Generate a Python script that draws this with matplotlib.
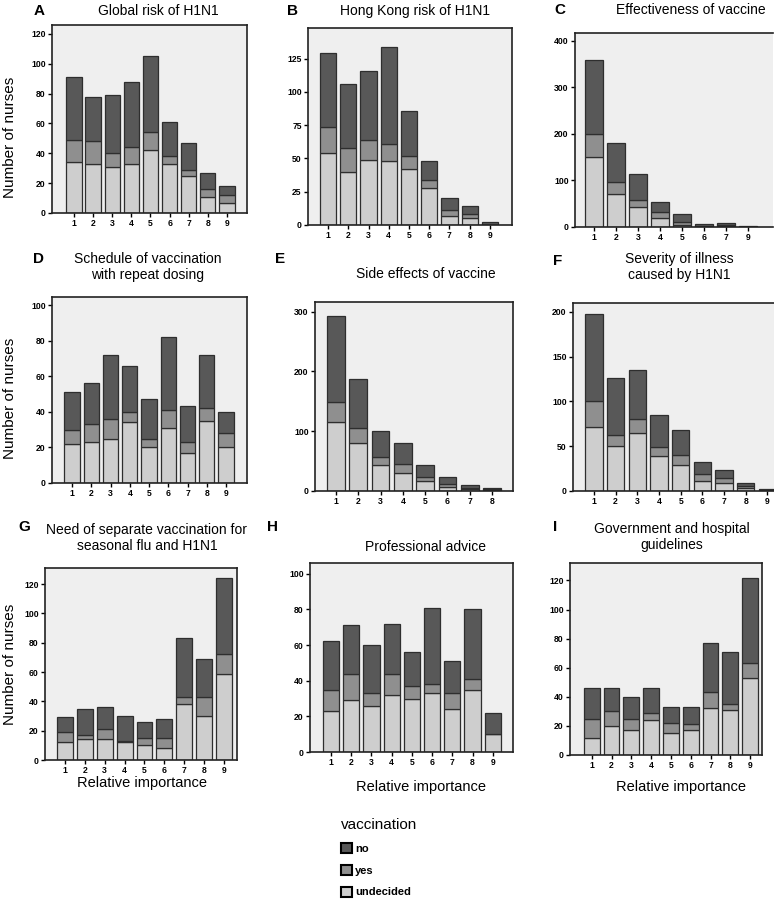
import matplotlib
matplotlib.use('Agg')
import matplotlib.pyplot as plt
import numpy as np

plt.rcParams['font.family'] = ['Liberation Sans', 'DejaVu Sans']

# ---------------- data ----------------
series_names = ['no', 'yes', 'undecided']

cats_9 = ['1', '2', '3', '4', '5', '6', '7', '8', '9']
cats_c = ['1', '2', '3', '4', '5', '6', '7', '9']
cats_e = ['1', '2', '3', '4', '5', '6', '7', '8']

a_undecided = [34, 33, 31, 33, 42, 33, 25, 11, 7]
a_yes = [15, 15, 9, 11, 12, 5, 4, 5, 5]
a_no = [42, 30, 39, 44, 51, 23, 18, 11, 6]

b_undecided = [54, 40, 49, 48, 42, 28, 7, 5, 0]
b_yes = [20, 18, 15, 13, 10, 6, 4, 3, 0]
b_no = [55, 48, 52, 73, 34, 14, 9, 6, 2]

c_undecided = [151, 72, 42, 20, 5, 2, 3, 1]
c_yes = [49, 25, 16, 12, 6, 1, 1, 0]
c_no = [158, 83, 56, 21, 18, 4, 4, 1]

d_undecided = [22, 23, 25, 34, 20, 31, 17, 35, 20]
d_yes = [8, 10, 11, 6, 5, 10, 6, 7, 8]
d_no = [21, 23, 36, 26, 22, 41, 20, 30, 12]

e_undecided = [115, 80, 43, 30, 17, 7, 3, 2]
e_yes = [33, 25, 14, 15, 7, 5, 2, 1]
e_no = [145, 83, 44, 35, 20, 11, 5, 2]

f_undecided = [72, 50, 65, 39, 29, 11, 9, 3, 1]
f_yes = [28, 12, 15, 10, 11, 8, 5, 3, 0]
f_no = [98, 64, 55, 36, 28, 13, 9, 3, 1]

g_undecided = [12, 14, 14, 12, 10, 8, 38, 30, 59]
g_yes = [7, 3, 7, 1, 5, 7, 5, 13, 13]
g_no = [10, 18, 15, 17, 11, 13, 40, 26, 52]

h_undecided = [23, 29, 26, 32, 30, 33, 24, 35, 10]
h_yes = [12, 15, 7, 12, 7, 5, 9, 6, 0]
h_no = [27, 27, 27, 28, 19, 43, 18, 39, 12]

i_undecided = [12, 20, 17, 24, 15, 17, 32, 31, 53]
i_yes = [13, 10, 8, 5, 7, 4, 11, 4, 10]
i_no = [21, 16, 15, 17, 11, 12, 34, 36, 59]

titles = ['Global risk of H1N1', 'Hong Kong risk of H1N1', 'Effectiveness of vaccine',
          'Schedule of vaccination\nwith repeat dosing', 'Side effects of vaccine',
          'Severity of illness\ncaused by H1N1',
          'Need of separate vaccination for\nseasonal flu and H1N1', 'Professional advice',
          'Government and hospital\nguidelines']
letters = ['A', 'B', 'C', 'D', 'E', 'F', 'G', 'H', 'I']
y_label = 'Number of nurses'
x_label = 'Relative importance'

# ---------------- style / layout ----------------
W, H = 774, 900
fig = plt.figure(figsize=(W / 100, H / 100), dpi=100)

C_NO = '#585858'
C_YES = '#8f8f8f'
C_UND = '#cecece'
BG = '#efefef'
EDGE = '#2e2e2e'


def px_axes(l, t, r, b):
    return fig.add_axes([l / W, 1 - b / H, (r - l) / W, (b - t) / H])


panels = [
    dict(cats=cats_9, und=a_undecided, yes=a_yes, no=a_no, box=(52, 25, 247, 213),
         margins=(1.15, 1.05), ylim=126, yticks=np.arange(0, 121, 20),
         letter_xy=(39, 11), title_xy=(158, 11)),
    dict(cats=cats_9, und=b_undecided, yes=b_yes, no=b_no, box=(308, 28, 512, 225),
         margins=(0.99, 1.09), ylim=148, yticks=np.arange(0, 126, 25),
         letter_xy=(292, 11), title_xy=(415, 11)),
    dict(cats=cats_c, und=c_undecided, yes=c_yes, no=c_no, box=(575, 33, 773, 227),
         margins=(0.86, 1.12), ylim=417, yticks=np.arange(0, 401, 100),
         letter_xy=(560, 10), title_xy=(691, 10)),
    dict(cats=cats_9, und=d_undecided, yes=d_yes, no=d_no, box=(52, 297, 247, 483),
         margins=(1.04, 1.09), ylim=104.5, yticks=np.arange(0, 101, 20),
         letter_xy=(38, 259), title_xy=(148, 267)),
    dict(cats=cats_e, und=e_undecided, yes=e_yes, no=e_no, box=(315, 302, 513, 491),
         margins=(0.94, 0.94), ylim=316, yticks=np.arange(0, 301, 100),
         letter_xy=(280, 259), title_xy=(426, 274)),
    dict(cats=cats_9, und=f_undecided, yes=f_yes, no=f_no, box=(573, 303, 774, 491),
         margins=(0.96, 0.3), ylim=210, yticks=np.arange(0, 201, 50),
         letter_xy=(558, 261), title_xy=(679, 267)),
    dict(cats=cats_9, und=g_undecided, yes=g_yes, no=g_no, box=(45, 568, 237, 760),
         margins=(1.0, 0.65), ylim=131, yticks=np.arange(0, 121, 20),
         letter_xy=(24, 527), title_xy=(147, 538)),
    dict(cats=cats_9, und=h_undecided, yes=h_yes, no=h_no, box=(310, 563, 513, 752),
         margins=(1.04, 1.0), ylim=106, yticks=np.arange(0, 101, 20),
         letter_xy=(272, 527), title_xy=(425, 547)),
    dict(cats=cats_9, und=i_undecided, yes=i_yes, no=i_no, box=(570, 563, 762, 755),
         margins=(1.1, 0.6), ylim=132, yticks=np.arange(0, 121, 20),
         letter_xy=(555, 527), title_xy=(672, 537)),
]

handles = None
for k, p in enumerate(panels):
    ax = px_axes(*p['box'])
    ax.set_facecolor(BG)
    x = np.arange(len(p['cats']))
    und = np.array(p['und'])
    yes = np.array(p['yes'])
    no = np.array(p['no'])
    bw = 0.8
    b1 = ax.bar(x, und, bw, color=C_UND, edgecolor=EDGE, linewidth=0.9, label='undecided')
    b2 = ax.bar(x, yes, bw, bottom=und, color=C_YES, edgecolor=EDGE, linewidth=0.9, label='yes')
    b3 = ax.bar(x, no, bw, bottom=und + yes, color=C_NO, edgecolor=EDGE, linewidth=0.9, label='no')
    if handles is None:
        handles = [b3, b2, b1]
    ax.set_xlim(-p['margins'][0], len(x) - 1 + p['margins'][1])
    ax.set_ylim(0, p['ylim'])
    ax.set_yticks(p['yticks'])
    ax.set_xticks(x)
    ax.set_xticklabels(p['cats'])
    ax.tick_params(axis='both', labelsize=6.2, length=3, width=1.0, pad=1.5, colors='black')
    for lab in ax.get_xticklabels() + ax.get_yticklabels():
        lab.set_fontweight('bold')
    for s in ax.spines.values():
        s.set_linewidth(1.2)
        s.set_color('#222222')
    if k in (2, 5):
        ax.spines['right'].set_visible(False)
    lx, ly = p['letter_xy']
    fig.text(lx / W, 1 - ly / H, letters[k], fontsize=11, fontweight='bold',
             ha='center', va='center')
    tx, ty = p['title_xy']
    fig.text(tx / W, 1 - ty / H, titles[k], fontsize=10, ha='center', va='center',
             linespacing=1.15)

for cy in (137, 398, 664):
    fig.text(10 / W, 1 - cy / H, y_label, rotation=90, fontsize=11, ha='center', va='center')

for cx, cy in [(142, 783), (421, 787), (681, 787)]:
    fig.text(cx / W, 1 - cy / H, x_label, fontsize=10.5, ha='center', va='center')

leg = fig.legend(handles, series_names, title='vaccination', loc='upper left',
                 bbox_to_anchor=(333 / W, 1 - 810 / H), frameon=False, fontsize=8,
                 title_fontsize=11, handlelength=1.0, handleheight=1.0,
                 handletextpad=0.3, labelspacing=1.0, alignment='left', borderpad=0.2)
for patch in leg.get_patches():
    patch.set_edgecolor('black')
    patch.set_linewidth(1.5)
for t in leg.get_texts():
    t.set_fontweight('bold')

fig.savefig('out.png', dpi=100)
